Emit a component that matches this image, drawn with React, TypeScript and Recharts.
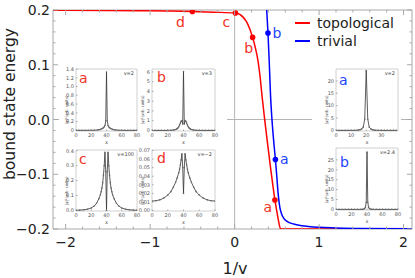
import { ComposedChart, LineChart, Line, Scatter, XAxis, YAxis, ReferenceLine, ReferenceArea, Label } from "recharts"

const FONT = "'DejaVu Sans', sans-serif"
const RED = "#ff0000"
const BLUE = "#0000ff"
const RED_TEXT = "#f0321e"
const BLUE_TEXT = "#2244ff"
const FRAME = "#a8a8a8"

// main curves: bound state energy against 1/v
const topoInvV = [-2.15, -2, -1.5, -1, -0.75, -0.5, -0.25, 0.01, 0.1, 0.15, 0.213, 0.25, 0.276, 0.3, 0.328, 0.35, 0.375, 0.4, 0.423, 0.45, 0.477, 0.5, 0.52, 0.545, 0.8, 1.2, 1.6, 2.1]
const topoEnergy = [0.1996, 0.1995, 0.1991, 0.1985, 0.198, 0.1972, 0.196, 0.1945, 0.187, 0.176, 0.15, 0.128, 0.108, 0.08, 0.038, 0.008, -0.025, -0.056, -0.085, -0.117, -0.147, -0.168, -0.185, -0.2, -0.2, -0.2, -0.2, -0.2]
const trivInvV = [0.365, 0.38, 0.395, 0.41, 0.425, 0.44, 0.46, 0.483, 0.5, 0.515, 0.535, 0.555, 0.58, 0.62, 0.7, 0.8, 0.9, 1.0, 1.2, 1.5, 2.1]
const trivEnergy = [0.24, 0.2, 0.158, 0.105, 0.045, 0.005, -0.035, -0.073, -0.105, -0.135, -0.16, -0.172, -0.18, -0.186, -0.191, -0.194, -0.196, -0.197, -0.198, -0.199, -0.1995]

// marked states shown in the insets
const topoMarkLetters = ["d", "c", "b", "a"]
const topoMarkInvV = [-0.5, 0.01, 0.213, 0.477]
const topoMarkEnergy = [0.1972, 0.1945, 0.15, -0.147]
const trivMarkLetters = ["b", "a"]
const trivMarkInvV = [0.395, 0.483]
const trivMarkEnergy = [0.158, -0.073]

const xMajorTicks = [-2, -1, 0, 1, 2]
const xTicks = [-2, -1.8, -1.6, -1.4, -1.2, -1, -0.8, -0.6, -0.4, -0.2, 0, 0.2, 0.4, 0.6, 0.8, 1, 1.2, 1.4, 1.6, 1.8, 2]
const yMajorTicks = [-0.2, -0.1, 0, 0.1, 0.2]
const yTicks = [-0.2, -0.18, -0.16, -0.14, -0.12, -0.1, -0.08, -0.06, -0.04, -0.02, 0, 0.02, 0.04, 0.06, 0.08, 0.1, 0.12, 0.14, 0.16, 0.18, 0.2]

// inset wavefunctions |psi|^2 against x
const topoA_x = [0, 4, 8, 12, 16, 20, 24, 28, 30, 32, 34, 35, 36, 37, 38, 39, 40, 41, 42, 43, 44, 45, 46, 48, 50, 52, 56, 60, 64, 68, 72, 76, 80]
const topoA_psi = [0, 0, 0, 0, 0, 0.001, 0.003, 0.008, 0.013, 0.022, 0.036, 0.046, 0.06, 0.08, 0.11, 0.22, 1.33, 0.22, 0.11, 0.08, 0.06, 0.046, 0.036, 0.022, 0.013, 0.008, 0.003, 0.001, 0, 0, 0, 0, 0]
const topoB_x = [0, 4, 8, 12, 16, 20, 24, 27, 29, 31, 32, 33, 34, 35, 36, 37, 38, 39, 40, 41, 42, 43, 44, 45, 46, 47, 48, 49, 51, 53, 56, 60, 64, 68, 72, 76, 80]
const topoB_psi = [0, 0, 0, 0, 0, 0.005, 0.015, 0.04, 0.07, 0.13, 0.18, 0.26, 0.38, 0.55, 0.75, 0.95, 1.0, 0.65, 6.05, 0.65, 1.0, 0.95, 0.75, 0.55, 0.38, 0.26, 0.18, 0.13, 0.07, 0.04, 0.015, 0.005, 0, 0, 0, 0, 0]
const topoC_x = [0, 5, 10, 15, 20, 24, 27, 30, 32, 33, 34, 35, 36, 37, 38, 39, 40, 41, 42, 43, 44, 45, 46, 47, 48, 50, 53, 56, 60, 65, 70, 75, 80]
const topoC_psi = [0.001, 0.002, 0.004, 0.008, 0.016, 0.03, 0.048, 0.078, 0.105, 0.125, 0.15, 0.185, 0.235, 0.3, 0.39, 0.26, 0.0, 0.26, 0.39, 0.3, 0.235, 0.185, 0.15, 0.125, 0.105, 0.078, 0.048, 0.03, 0.016, 0.008, 0.004, 0.002, 0.001]
const topoD_x = [0, 5, 10, 15, 20, 24, 27, 30, 32, 34, 35, 36, 37, 38, 39, 40, 41, 42, 43, 44, 45, 46, 48, 50, 53, 56, 60, 65, 70, 75, 80]
const topoD_psi = [0.011, 0.0115, 0.0125, 0.0145, 0.018, 0.022, 0.027, 0.033, 0.038, 0.044, 0.048, 0.053, 0.059, 0.066, 0.05, 0.02, 0.05, 0.066, 0.059, 0.053, 0.048, 0.044, 0.038, 0.033, 0.027, 0.022, 0.018, 0.0145, 0.0125, 0.0115, 0.011]
const trivA_x = [0, 2, 4, 6, 8, 10, 12, 14, 15, 16, 17, 18, 19, 20, 21, 22, 23, 24, 25, 26, 28, 30, 32, 34, 36, 38, 40]
const trivA_psi = [0, 0, 0, 0, 0, 0, 0.02, 0.08, 0.15, 0.3, 0.6, 1.3, 4.5, 24.2, 4.5, 1.3, 0.6, 0.3, 0.15, 0.08, 0.02, 0, 0, 0, 0, 0, 0]
const trivB_x = [0, 4, 8, 12, 16, 20, 24, 28, 32, 34, 36, 37, 38, 39, 40, 41, 42, 43, 44, 46, 48, 52, 56, 60, 64, 68, 72, 76, 80]
const trivB_psi = [0, 0, 0, 0, 0, 0, 0, 0, 0.01, 0.05, 0.2, 0.45, 1.1, 3.6, 29, 3.6, 1.1, 0.45, 0.2, 0.05, 0.01, 0, 0, 0, 0, 0, 0, 0, 0]

const PLOT = { left: 53, right: 412, top: 10, bottom: 229 }

const markLabelOffset: Record<string, [number, number]> = {
  "topo-d": [-12, 10],
  "topo-c": [-9, 9],
  "topo-b": [-4, 11],
  "topo-a": [-7, 7],
  "triv-b": [9, 0],
  "triv-a": [9, 0],
}

const toRows = (xs: number[], ys: number[]) => xs.map((x, i) => ({ x, e: ys[i] }))
const topoData = toRows(topoInvV, topoEnergy)
const trivData = toRows(trivInvV, trivEnergy)
const topoMarks = topoMarkLetters.map((letter, i) => ({ letter, x: topoMarkInvV[i], e: topoMarkEnergy[i] }))
const trivMarks = trivMarkLetters.map((letter, i) => ({ letter, x: trivMarkInvV[i], e: trivMarkEnergy[i] }))

const minus = (s: string) => s.replace("-", "\u2212")

function XTick(props: any) {
  const { x, payload } = props
  const v = payload.value
  const major = xMajorTicks.includes(v)
  const len = major ? 5 : 2.5
  return (
    <g>
      <line x1={x} x2={x} y1={PLOT.bottom} y2={PLOT.bottom - len} stroke={FRAME} />
      <line x1={x} x2={x} y1={PLOT.top} y2={PLOT.top + len} stroke={FRAME} />
      {major && (
        <text x={x} y={242} textAnchor="middle" dominantBaseline="central" fontSize={14} fontFamily={FONT} fill="#222">
          {minus(String(v))}
        </text>
      )}
    </g>
  )
}

function YTick(props: any) {
  const { y, payload } = props
  const v = payload.value
  const major = yMajorTicks.includes(v)
  const len = major ? 5 : 2.5
  return (
    <g>
      <line x1={PLOT.left} x2={PLOT.left + len} y1={y} y2={y} stroke={FRAME} />
      <line x1={PLOT.right} x2={PLOT.right - len} y1={y} y2={y} stroke={FRAME} />
      {major && (
        <text x={50} y={y} textAnchor="end" dominantBaseline="central" fontSize={14} fontFamily={FONT} fill="#222">
          {minus(v.toFixed(1))}
        </text>
      )}
    </g>
  )
}

const markShape = (series: string, color: string, textColor: string) => (props: any) => {
  const { cx, cy, payload } = props
  const [dx, dy] = markLabelOffset[`${series}-${payload.letter}`]
  return (
    <g>
      <circle cx={cx} cy={cy} r={2.8} fill={color} />
      <text x={cx + dx} y={cy + dy} textAnchor="middle" dominantBaseline="central" fontSize={14} fontFamily={FONT} fill={textColor}>
        {payload.letter}
      </text>
    </g>
  )
}

type InsetProps = {
  left: number
  top: number
  w: number
  h: number
  xs: number[]
  ys: number[]
  xDomain: [number, number]
  xTicks: number[]
  yDomain: [number, number]
  yTicks: number[]
  yFmt: (v: number) => string
  letter: string
  letterColor: string
  letterDx: number
  letterDy: number
  vText: string
}

function Inset(p: InsetProps) {
  const data = p.xs.map((x, i) => ({ x, y: p.ys[i] }))
  const tickStyle = { fontSize: 5, fill: "#555", fontFamily: FONT }
  return (
    <>
      <div style={{ position: "absolute", left: p.left - 14, top: p.top - 3 }}>
        <LineChart width={p.w + 18} height={p.h + 18} data={data} margin={{ top: 3, right: 4, left: 0, bottom: 0 }}>
          <XAxis dataKey="x" type="number" domain={p.xDomain} ticks={p.xTicks} interval={0} height={15} tickSize={-1.5} tickMargin={4} tick={tickStyle} axisLine={false} tickLine={{ stroke: "#aaa" }} allowDataOverflow />
          <YAxis type="number" domain={p.yDomain} ticks={p.yTicks} interval={0} width={14} tickSize={-1.5} tickMargin={3.5} tick={tickStyle} tickFormatter={p.yFmt} axisLine={false} tickLine={{ stroke: "#aaa" }} allowDataOverflow />
          <ReferenceArea x1={p.xDomain[0]} x2={p.xDomain[1]} y1={p.yDomain[0]} y2={p.yDomain[1]} fill="none" stroke="#c4c4c4" strokeWidth={0.8} ifOverflow="visible" />
          <Line dataKey="y" type="linear" stroke="#333" strokeWidth={0.8} dot={{ r: 0.8, fill: "#666", stroke: "none" }} isAnimationActive={false} />
        </LineChart>
      </div>
      <div style={{ position: "absolute", left: p.left + p.letterDx, top: p.top + p.letterDy, fontSize: 14, lineHeight: "14px", color: p.letterColor }}>
        {p.letter}
      </div>
      <div style={{ position: "absolute", left: p.left, width: p.w - 3, top: p.top + 1.5, fontSize: 5, lineHeight: "5px", textAlign: "right", color: "#444" }}>
        {p.vText}
      </div>
      <div style={{ position: "absolute", left: p.left + p.w / 2 - 10, width: 20, top: p.top + p.h + 8.5, fontSize: 5, lineHeight: "5px", textAlign: "center", color: "#555" }}>
        x
      </div>
      <div
        style={{
          position: "absolute",
          left: p.left - 29,
          top: p.top + 39,
          width: 40,
          fontSize: 4,
          lineHeight: "4px",
          textAlign: "center",
          color: "#555",
          transform: "rotate(-90deg)",
          whiteSpace: "nowrap",
        }}
      >
        |ψ|²(arb. units)
      </div>
    </>
  )
}

const fmt1 = (v: number) => (v === 0 ? "0" : v.toFixed(1))
const fmt2 = (v: number) => v.toFixed(2)
const fmtInt = (v: number) => String(v)

export default function App() {
  return (
    <div style={{ position: "absolute", left: 0, top: 0, width: 415, height: 278, background: "#fff", fontFamily: FONT, overflow: "hidden" }}>
      <ComposedChart width={415} height={278} margin={{ top: 10, right: 3, bottom: 19, left: 0 }}>
        <XAxis dataKey="x" type="number" domain={[-2.15, 2.1]} ticks={xTicks} interval={0} tick={XTick} tickLine={false} axisLine={false} height={30} allowDataOverflow>
          <Label
            content={() => (
              <text x={235} y={268} textAnchor="middle" dominantBaseline="central" fontSize={16} fontFamily={FONT} fill="#222">
                1/v
              </text>
            )}
          />
        </XAxis>
        <YAxis type="number" domain={[-0.2, 0.2]} ticks={yTicks} interval={0} tick={YTick} tickLine={false} axisLine={false} width={53} allowDataOverflow>
          <Label
            content={() => (
              <text x={9.5} y={104} transform="rotate(-90 9.5 104)" textAnchor="middle" dominantBaseline="central" fontSize={15.5} fontFamily={FONT} fill="#222">
                bound state energy
              </text>
            )}
          />
        </YAxis>
        <ReferenceLine x={0} stroke="#b4b4b4" />
        <ReferenceLine y={0} stroke="#b4b4b4" />
        <ReferenceArea x1={-2.15} x2={2.1} y1={-0.2} y2={0.2} fill="none" stroke={FRAME} ifOverflow="visible" />
        <Line data={topoData} dataKey="e" type="monotone" stroke={RED} strokeWidth={1.5} dot={false} isAnimationActive={false} />
        <Line data={trivData} dataKey="e" type="monotone" stroke={BLUE} strokeWidth={1.5} dot={false} isAnimationActive={false} />
        <Scatter data={topoMarks} dataKey="e" shape={markShape("topo", RED, RED_TEXT)} isAnimationActive={false} />
        <Scatter data={trivMarks} dataKey="e" shape={markShape("triv", BLUE, BLUE_TEXT)} isAnimationActive={false} />
      </ComposedChart>

      <div style={{ position: "absolute", left: 295, top: 14, fontSize: 14, lineHeight: "18px", color: "#222" }}>
        {[
          { name: "topological", color: RED },
          { name: "trivial", color: BLUE },
        ].map((s) => (
          <div key={s.name} style={{ display: "flex", alignItems: "center" }}>
            <span style={{ display: "inline-block", width: 15, height: 1.6, background: s.color, marginRight: 7 }} />
            <span>{s.name}</span>
          </div>
        ))}
      </div>

      <div style={{ position: "absolute", left: 59, top: 65, width: 168, height: 159, background: "#fff" }} />
      <div style={{ position: "absolute", left: 312, top: 65, width: 89, height: 158, background: "#fff" }} />

      <Inset left={76} top={69} w={61} h={62} xs={topoA_x} ys={topoA_psi} xDomain={[0, 80]} xTicks={[0, 20, 40, 60, 80]} yDomain={[-0.015, 1.4]} yTicks={[0, 0.2, 0.4, 0.6, 0.8, 1, 1.2, 1.4]} yFmt={fmt1} letter="a" letterColor={RED_TEXT} letterDx={3} letterDy={2} vText="v=2" />
      <Inset left={152} top={69} w={63} h={62} xs={topoB_x} ys={topoB_psi} xDomain={[0, 80]} xTicks={[0, 20, 40, 60, 80]} yDomain={[-0.06, 6.3]} yTicks={[0, 1, 2, 3, 4, 5, 6]} yFmt={fmtInt} letter="b" letterColor={RED_TEXT} letterDx={5} letterDy={1} vText="v=3" />
      <Inset left={76} top={150} w={61} h={61} xs={topoC_x} ys={topoC_psi} xDomain={[0, 80]} xTicks={[0, 20, 40, 60, 80]} yDomain={[-0.004, 0.405]} yTicks={[0, 0.1, 0.2, 0.3, 0.4]} yFmt={(v) => v.toFixed(1)} letter="c" letterColor={RED_TEXT} letterDx={3} letterDy={2} vText="v=100" />
      <Inset left={152} top={150} w={63} h={61} xs={topoD_x} ys={topoD_psi} xDomain={[0, 80]} xTicks={[0, 20, 40, 60, 80]} yDomain={[-0.0005, 0.0705]} yTicks={[0, 0.01, 0.02, 0.03, 0.04, 0.05, 0.06, 0.07]} yFmt={fmt2} letter="d" letterColor={RED_TEXT} letterDx={5} letterDy={1} vText={"v=\u22122"} />
      <Inset left={336} top={69} w={62} h={62} xs={trivA_x} ys={trivA_psi} xDomain={[0, 41]} xTicks={[0, 10, 20, 30]} yDomain={[-0.25, 24.8]} yTicks={[0, 5, 10, 15, 20]} yFmt={fmtInt} letter="a" letterColor={BLUE_TEXT} letterDx={3} letterDy={4} vText="v=2" />
      <Inset left={336} top={148} w={62} h={62} xs={trivB_x} ys={trivB_psi} xDomain={[0, 80]} xTicks={[0, 20, 40, 60, 80]} yDomain={[-0.3, 31]} yTicks={[0, 5, 10, 15, 20, 25]} yFmt={fmtInt} letter="b" letterColor={BLUE_TEXT} letterDx={4} letterDy={7} vText="v=2.4" />
    </div>
  )
}
